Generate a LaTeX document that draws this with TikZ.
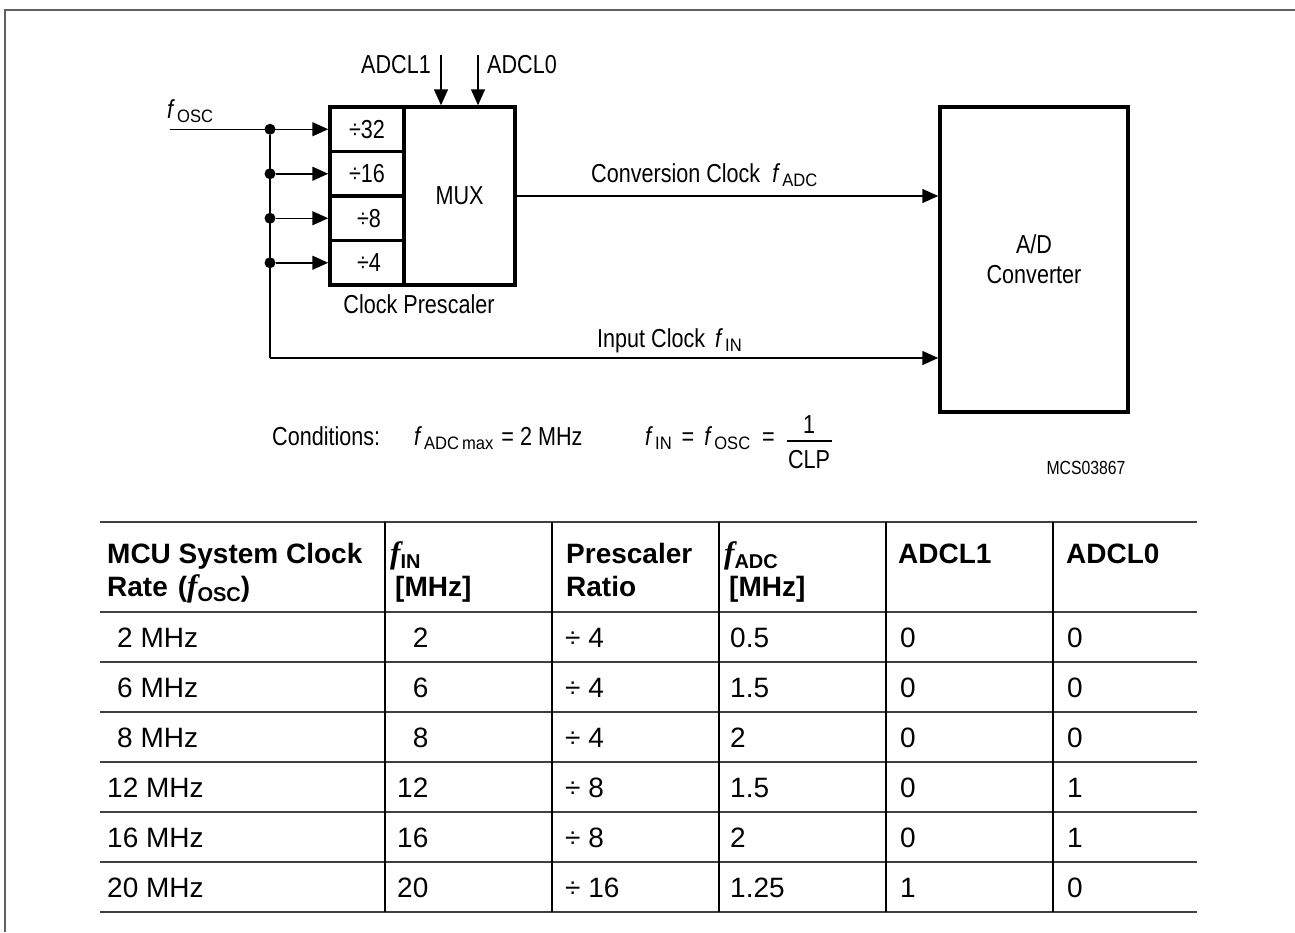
\documentclass[tikz,border=0pt]{standalone}
\usepackage{fontspec}
\setmainfont{Liberation Sans}
\newfontfamily\narrowfont[FakeStretch=0.83]{Liberation Sans}
\newfontfamily\subfont[FakeStretch=0.92]{Liberation Sans}
\newfontfamily\timesfont{Liberation Serif}
\usetikzlibrary{arrows.meta}
\newcommand\dgfont{\narrowfont\fontsize{26}{30}\selectfont}
\newcommand\tbfont{\fontsize{28}{33}\selectfont}
\newcommand\fsub[1]{{\itshape f}\hspace{4pt}\raisebox{-4pt}{\subfont\fontsize{18}{20}\selectfont #1}}
\newcommand\hf[1]{{\timesfont\itshape\fontsize{31}{31}\selectfont f}\raisebox{-5pt}{\fontsize{20}{22}\selectfont\bfseries #1}}
\definecolor{framegray}{HTML}{606060}
\definecolor{rulegray}{HTML}{404040}
\tikzset{
  wire/.style={line width=1.5pt},
  blk/.style={draw, line width=3.5pt, inner sep=0pt, font=\dgfont},
  arr/.style={-{Triangle[length=16pt,width=14pt]}},
  junction/.style={circle, fill, inner sep=0pt, minimum size=11pt},
  txt/.style={inner sep=0pt, font=\dgfont},
  cell/.style={inner sep=0pt, font=\tbfont, anchor=base west},
  hcell/.style={inner sep=0pt, font=\tbfont\bfseries, anchor=base west},
  hrule/.style={draw=rulegray, line width=2pt},
  vrule/.style={draw=black, line width=1.5pt},
}
\begin{document}
\begin{tikzpicture}[x=1pt,y=-1pt]
\useasboundingbox (0,0) rectangle (1295,932);
% frame
\draw[framegray, line width=2.5pt] (5,932) -- (5,10) -- (1295,10);

% prescaler boxes
\node[blk, minimum width=74pt, minimum height=44.5pt] (d32) at (367,129.25) {÷32};
\node[blk, minimum width=74pt, minimum height=44.5pt] (d16) at (367,173.75) {÷16};
\node[blk, minimum width=74pt, minimum height=44.5pt] (d8) at (367,218.25) {\hspace{4pt}÷8};
\node[blk, minimum width=74pt, minimum height=44.5pt] (d4) at (367,262.75) {\hspace{4pt}÷4};
\node[blk, minimum width=111pt, minimum height=178pt] (mux) at (459.5,196) {MUX};
\node[blk, minimum width=188pt, minimum height=305pt, align=center] (adc) at (1034,259.5) {A/D\\Converter};

% input f_OSC
\coordinate (fin) at (170,129.25);
\node[junction] (j1) at (270,129.25) {};
\node[junction] (j2) at (270,173.75) {};
\node[junction] (j3) at (270,218.25) {};
\node[junction] (j4) at (270,262.75) {};
\coordinate (corner) at (270,358);
\draw[wire, arr] (fin) -- (d32.west);
\draw[wire, arr] (j2) -- (d16.west);
\draw[wire, arr] (j3) -- (d8.west);
\draw[wire, arr] (j4) -- (d4.west);
\draw[wire] (j1) -- (corner);
\draw[wire, arr] (corner) -- (corner -| adc.west);
\draw[wire, arr] (mux.east) -- (mux.east -| adc.west);

% ADCL control inputs
\coordinate (a1) at (441,55);
\coordinate (a0) at (478,55);
\draw[wire, arr] (a1) -- (a1 |- mux.north);
\draw[wire, arr] (a0) -- (a0 |- mux.north);
\node[txt, anchor=base east] (la1) at (431,73) {ADCL1};
\node[txt, anchor=base west] (la0) at (487,73) {ADCL0};

% labels
\node[txt, anchor=base west] (lfosc) at (167,118) {\fsub{OSC}};
\node[txt, anchor=base] (lpre) at (419,313) {Clock Prescaler};
\node[txt, anchor=base west] (lconv) at (591,182) {Conversion Clock\hspace{12pt}\fsub{ADC}};
\node[txt, anchor=base west] (lin) at (597,347) {Input Clock\hspace{10pt}\fsub{IN}};

% conditions
\node[txt, anchor=base west] (cond) at (272,445) {Conditions:};
\node[txt, anchor=base west] (cmax) at (414,445) {\fsub{ADC\,max}\hspace{8pt}= 2 MHz};
\node[txt, anchor=base east] (cfin) at (775,445) {\fsub{IN}\hspace{10pt}=\hspace{10pt}\fsub{OSC}\hspace{12pt}=};
\node[txt, anchor=base] (num) at (809,433) {1};
\node[txt, anchor=base] (den) at (809,468) {CLP};
\draw[wire] (787,441) -- (832,441);
\node[inner sep=0pt, font=\narrowfont\fontsize{19}{22}\selectfont, anchor=base] (mcs) at (1086,474) {MCS03867};

% table rules
\foreach \yy in {522,612,662,712,762,812,862,912}
  \draw[hrule] (100,\yy) -- (1197,\yy);
\foreach \xx in {385,552,719,886,1053}
  \draw[vrule] (\xx,522) -- (\xx,912);

% table header
\node[hcell] (h1a) at (107,563) {MCU System Clock};
\node[hcell] (h1b) at (107,596) {Rate\hspace{10pt}(\hf{OSC})};
\node[hcell] (h2a) at (390,563) {\hf{IN}};
\node[hcell] (h2b) at (395,596) {[MHz]};
\node[hcell] (h3a) at (566,563) {Prescaler};
\node[hcell] (h3b) at (566,596) {Ratio};
\node[hcell] (h4a) at (724,563) {\hf{ADC}};
\node[hcell] (h4b) at (729,596) {[MHz]};
\node[hcell] (h5) at (898,563) {ADCL1};
\node[hcell] (h6) at (1066,563) {ADCL0};

% table body
\foreach \k/\ra/\rb/\rc/\rd/\re/\rf in {
  0/{\hspace{10pt}2 MHz}/{\phantom{1}2}/{÷ 4}/0.5/0/0,
  1/{\hspace{10pt}6 MHz}/{\phantom{1}6}/{÷ 4}/1.5/0/0,
  2/{\hspace{10pt}8 MHz}/{\phantom{1}8}/{÷ 4}/2/0/0,
  3/{12 MHz}/12/{÷ 8}/1.5/0/1,
  4/{16 MHz}/16/{÷ 8}/2/0/1,
  5/{20 MHz}/20/{÷ 16}/1.25/1/0} {
  \node[cell] (ra\k) at (107,{647+50*\k}) {\ra};
  \node[cell] (rb\k) at (397,{647+50*\k}) {\rb};
  \node[cell] (rc\k) at (565,{647+50*\k}) {\rc};
  \node[cell] (rd\k) at (730,{647+50*\k}) {\rd};
  \node[cell] (re\k) at (900,{647+50*\k}) {\re};
  \node[cell] (rf\k) at (1067,{647+50*\k}) {\rf};
}
\end{tikzpicture}
\end{document}
